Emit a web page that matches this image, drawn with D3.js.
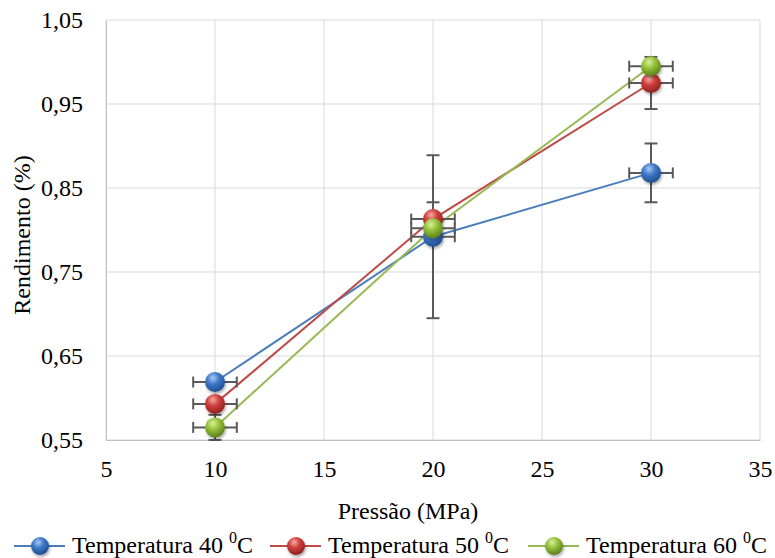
<!DOCTYPE html>
<html><head><meta charset="utf-8">
<script src="https://cdn.jsdelivr.net/npm/d3@7"></script>
<style>body{margin:0;background:#fff}svg{display:block}</style>
</head><body>
<svg id="c" width="775" height="558"></svg>
<script>
const pressure = [10, 20, 30];
const seriesNames = ["Temperatura 40 ", "Temperatura 50 ", "Temperatura 60 "];
const yield40 = [0.619, 0.792, 0.868];
const yield50 = [0.593, 0.813, 0.975];
const yield60 = [0.565, 0.802, 0.995];
const yErr40 = [0.004, 0.097, 0.035];
const yErr50 = [0.004, 0.020, 0.031];
const yErr60 = [0.015, 0.004, 0.004];
const xErr = [1, 1, 1];
const xTicks = [5, 10, 15, 20, 25, 30, 35];
const yTicks = [0.55, 0.65, 0.75, 0.85, 0.95, 1.05];

const FONT = "Liberation Serif";
const FS = "24px";
const colors = [
  {line:"#4a7ebb", light:"#a9c8f0", mid:"#3d78c8", dark:"#1f4f8f"},
  {line:"#be4b48", light:"#f2aaa8", mid:"#d03d39", dark:"#8e2321"},
  {line:"#98b954", light:"#d9ef9f", mid:"#94c13a", dark:"#5e7f1e"}
];
const data = [yield40, yield50, yield60];
const errs = [yErr40, yErr50, yErr60];

const svg = d3.select("#c");
const x = d3.scaleLinear().domain([5, 35]).range([106, 760]);
const y = d3.scaleLinear().domain([0.55, 1.05]).range([440, 20]);
const fmt = d => d3.format(".2f")(d).replace(".", ",");

const defs = svg.append("defs");
colors.forEach((c, i) => {
  const g = defs.append("radialGradient").attr("id", "g" + i)
    .attr("cx", "40%").attr("cy", "30%").attr("r", "70%");
  g.append("stop").attr("offset", "0%").attr("stop-color", c.light);
  g.append("stop").attr("offset", "45%").attr("stop-color", c.mid);
  g.append("stop").attr("offset", "100%").attr("stop-color", c.dark);
});
const sh = defs.append("filter").attr("id","sh").attr("x","-50%").attr("y","-50%").attr("width","200%").attr("height","200%");
sh.append("feDropShadow").attr("dx",1).attr("dy",2).attr("stdDeviation",1.5).attr("flood-color","#000").attr("flood-opacity",0.35);

// grid
const grid = svg.append("g");
xTicks.forEach(t => grid.append("line").attr("x1", x(t)).attr("x2", x(t)).attr("y1", y(1.05)).attr("y2", y(0.55))
  .attr("stroke", "#d9d9d9").attr("stroke-width", 1));
yTicks.forEach(t => grid.append("line").attr("x1", x(5)).attr("x2", x(35)).attr("y1", y(t)).attr("y2", y(t))
  .attr("stroke", "#d9d9d9").attr("stroke-width", 1));

// axes
const xAxis = svg.append("g").attr("transform", `translate(0,${y(0.55)})`)
  .call(d3.axisBottom(x).tickValues(xTicks).tickSize(0).tickPadding(20).tickFormat(d3.format("d")));
xAxis.select(".domain").attr("stroke", "#bfbfbf");
xAxis.selectAll("text").style("font-family", FONT).style("font-size", FS).style("fill", "#000");
const yAxis = svg.append("g").attr("transform", `translate(${x(5)},0)`)
  .call(d3.axisLeft(y).tickValues(yTicks).tickSize(0).tickPadding(23).tickFormat(fmt));
yAxis.select(".domain").attr("stroke", "#bfbfbf");
yAxis.selectAll("text").style("font-family", FONT).style("font-size", FS).style("fill", "#000");

// titles
svg.append("text").attr("x", 408).attr("y", 519).attr("text-anchor", "middle")
  .style("font-family", FONT).style("font-size", FS).text("Pressão (MPa)");
svg.append("text").attr("transform", `translate(30,235) rotate(-90)`).attr("text-anchor", "middle")
  .style("font-family", FONT).style("font-size", FS).text("Rendimento (%)");

// lines
const line = d3.line().x((d, i) => x(pressure[i])).y(d => y(d));
data.forEach((s, k) => {
  svg.append("path").datum(s).attr("d", line).attr("fill", "none")
    .attr("stroke", colors[k].line).attr("stroke-width", 2);
});

// error bars
const eg = svg.append("g").attr("stroke", "#595959").attr("stroke-width", 2);
data.forEach((s, k) => {
  s.forEach((v, i) => {
    const cx = x(pressure[i]), cy = y(v);
    const e = errs[k][i];
    eg.append("line").attr("x1", cx).attr("x2", cx).attr("y1", y(v - e)).attr("y2", y(v + e));
    [v - e, v + e].forEach(w => eg.append("line").attr("x1", cx - 6.5).attr("x2", cx + 6.5).attr("y1", y(w)).attr("y2", y(w)));
    const xl = x(pressure[i] - xErr[i]), xr = x(pressure[i] + xErr[i]);
    eg.append("line").attr("x1", xl).attr("x2", xr).attr("y1", cy).attr("y2", cy);
    [xl, xr].forEach(xx => eg.append("line").attr("x1", xx).attr("x2", xx).attr("y1", cy - 5.5).attr("y2", cy + 5.5));
  });
});

// markers
data.forEach((s, k) => {
  s.forEach((v, i) => {
    svg.append("circle").attr("cx", x(pressure[i])).attr("cy", y(v)).attr("r", 10)
      .attr("fill", `url(#g${k})`).attr("filter", "url(#sh)");
  });
});

// legend
const legX = [14, 270, 528];
seriesNames.forEach((n, k) => {
  const g = svg.append("g").attr("transform", `translate(${legX[k]},546)`);
  g.append("line").attr("x1", 0).attr("x2", 51).attr("y1", 0).attr("y2", 0)
    .attr("stroke", colors[k].line).attr("stroke-width", 2);
  g.append("circle").attr("cx", 26).attr("cy", 0).attr("r", 9).attr("fill", `url(#g${k})`).attr("filter", "url(#sh)");
  const t = g.append("text").attr("x", 58).attr("y", 7).style("font-family", FONT).style("font-size", FS);
  t.append("tspan").text(n);
  t.append("tspan").attr("dy", -10).style("font-size", "16px").text("0");
  t.append("tspan").attr("dy", 10).text("C");
});
</script>
</body></html>
